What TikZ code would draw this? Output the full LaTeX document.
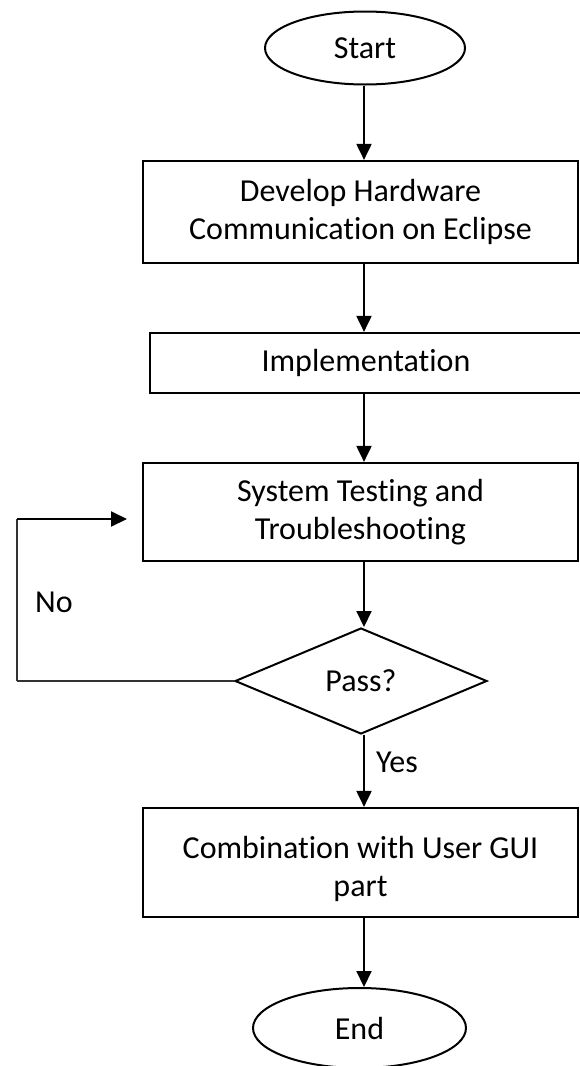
\documentclass[tikz,border=0pt]{standalone}
\usepackage{fontspec}
\setmainfont{Carlito}[Ligatures=NoCommon]
\usepackage{tikz}
\usetikzlibrary{positioning,shapes,shapes.geometric,arrows,arrows.meta,calc}
\tikzstyle{arrow}=[-{Triangle[length=8pt,width=7.5pt]}, line width=1pt]
\tikzstyle{startstop}=[ellipse, draw, line width=1pt, inner sep=0pt]
\tikzstyle{process}=[rectangle, draw, line width=1.1pt, align=center, inner sep=0pt]
\tikzstyle{decision}=[diamond, draw, line width=1pt, inner sep=0pt]
\tikzstyle{loopline}=[line width=0.6pt, black!80]
\newcommand{\flowfont}{\fontsize{16}{19}\selectfont}

\begin{document}
\begin{tikzpicture}[x=0.5pt,y=-0.5pt,font=\flowfont]
	\useasboundingbox (0,0) rectangle (579,1066);
	\coordinate (axis) at (364,0);

	\node[startstop, minimum width=100pt, minimum height=36.5pt] (start) at (365,48) {Start};
	\node[process, minimum width=217.5pt, minimum height=51pt] (develop) at (360.5,212) {Develop Hardware\\Communication on Eclipse};
	\node[process, minimum width=216pt, minimum height=30pt] (impl) at (366,363) {Implementation};
	\node[process, minimum width=217.5pt, minimum height=49pt] (test) at (360.5,512) {System Testing and\\Troubleshooting};
	\node[decision, minimum width=126pt, minimum height=53pt] (pass) at (361,681) {\raisebox{-2pt}{Pass?}};
	\node[process, minimum width=217.5pt, minimum height=54.5pt] (combine) at (360.5,862.5) {\mbox{}\\[-1.5pt]Combination with User GUI\\part};
	\node[startstop, minimum width=106.5pt, minimum height=40pt] (end) at (359.5,1028) {End};

	\node (no) at (54,602) {No};
	\node (yes) at (397,762) {Yes};

	\draw[arrow] (start.south -| axis) -- (develop.north -| axis);
	\draw[arrow] (develop.south -| axis) -- (impl.north -| axis);
	\draw[arrow] (impl.south -| axis) -- (test.north -| axis);
	\draw[arrow] (test.south -| axis) -- (pass.north -| axis);
	\draw[arrow] (pass.south -| axis) -- (combine.north -| axis);
	\draw[arrow] (combine.south -| axis) -- (end.north -| axis);

	% No branch back to testing
	\coordinate (loopcorner) at (17,681);
	\coordinate (loopin) at (127,519);
	\draw[loopline] (pass.west) -- (loopcorner);
	\draw[loopline] (loopcorner) -- (loopcorner |- loopin);
	\draw[arrow] (loopcorner |- loopin) -- (loopin);
\end{tikzpicture}
\end{document}
